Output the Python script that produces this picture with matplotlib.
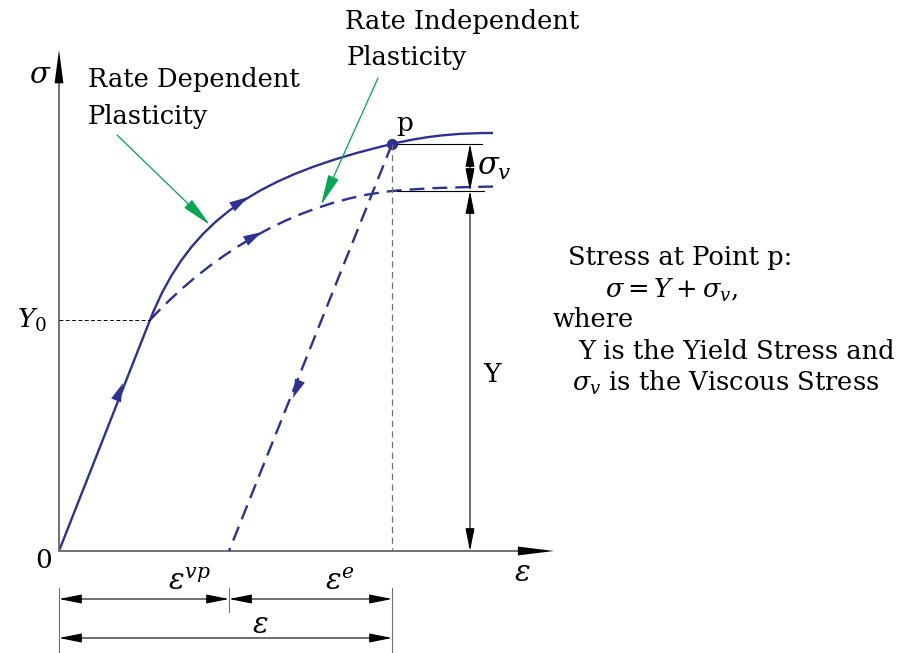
import matplotlib
matplotlib.use("Agg")
from matplotlib import pyplot as plt
from matplotlib.path import Path
from matplotlib.patches import PathPatch

plt.rcParams['font.family'] = 'DejaVu Serif'
plt.rcParams['mathtext.fontset'] = 'dejavuserif'

BLUE = '#2e3192'
GREEN = '#00a651'
GRAY = '#707070'

# rate dependent path: elastic line, then two cubic segments (through p)
eps_rd = [0.0, 0.91, 1.31, 2.01, 3.33, 3.73, 4.06, 4.34]
sig_rd = [0.0, 2.31, 3.33, 3.76, 4.07, 4.166, 4.18, 4.18]
codes_rd = [Path.MOVETO, Path.LINETO] + [Path.CURVE4] * 6

# rate independent curve from initial yield, two cubic segments
eps_ri = [0.91, 1.56, 2.41, 3.33, 3.71, 4.06, 4.41]
sig_ri = [2.31, 3.01, 3.50, 3.60, 3.635, 3.64, 3.645]
codes_ri = [Path.MOVETO] + [Path.CURVE4] * 6

# key values
eps0, Y0 = 0.91, 2.31          # initial yield
eps_p, sig_p = 3.33, 4.07      # point p
Y = 3.60                       # yield stress at p
eps_vp = 1.70                  # viscoplastic strain after unloading
eps_max, sig_max = 4.95, 5.01  # axis tips
x_dim = 4.11                   # stress dimension line
y_dim1, y_dim2 = -0.48, -0.87  # strain dimension lines

fig = plt.figure(figsize=(8.97, 6.53), dpi=100)
ax = fig.add_axes([0, 0, 1, 1])
ax.set_xlim(-0.59, 8.38)
ax.set_ylim(-1.02, 5.51)
ax.axis('off')

# axes
ax.plot([0, 0], [0, sig_max - 0.3], color=GRAY, lw=1.4)
ax.plot([0, eps_max - 0.3], [0, 0], color=GRAY, lw=1.4)
ax.annotate('', xy=(0, sig_max), xytext=(0, sig_max - 0.36),
            arrowprops=dict(arrowstyle='-|>,head_length=2.4,head_width=0.32',
                            color='black', lw=0, shrinkA=0, shrinkB=0))
ax.annotate('', xy=(eps_max, 0), xytext=(eps_max - 0.38, 0),
            arrowprops=dict(arrowstyle='-|>,head_length=2.6,head_width=0.32',
                            color='black', lw=0, shrinkA=0, shrinkB=0))

# curves
ax.add_patch(PathPatch(Path(list(zip(eps_rd, sig_rd)), codes_rd),
                       fill=False, edgecolor=BLUE, lw=1.7))
ax.add_patch(PathPatch(Path(list(zip(eps_ri, sig_ri)), codes_ri),
                       fill=False, edgecolor=BLUE, lw=1.7, linestyle=(0, (6.3, 3.4))))
ax.plot([eps_p, eps_vp], [sig_p, 0], color=BLUE, lw=1.7, dashes=(6.3, 3.4))
ax.plot([eps_p], [sig_p], 'o', color=BLUE, ms=7)

# helper lines
ax.plot([0, eps0], [Y0, Y0], color='black', lw=0.7, dashes=(4, 2.5))
ax.plot([eps_p, eps_p], [sig_p, 0], color=GRAY, lw=0.9, dashes=(5, 3.5))
ax.plot([eps_p + 0.05, x_dim + 0.12], [sig_p, sig_p], color='black', lw=0.8)
ax.plot([eps_p + 0.05, x_dim + 0.14], [Y, Y], color='black', lw=0.8)

# direction arrows on the paths
def head(tip, d, color=BLUE):
    ax.annotate('', xy=tip, xytext=(tip[0] - 0.06 * d[0], tip[1] - 0.06 * d[1]),
                arrowprops=dict(arrowstyle='-|>,head_length=1.35,head_width=0.38',
                                color=color, lw=0, shrinkA=0, shrinkB=0))

head((0.64, 1.68), (0.37, 0.93))
head((1.89, 3.54), (0.85, 0.53))
head((2.03, 3.19), (0.88, 0.48))
head((2.34, 1.53), (-0.37, -0.93))

# dimension arrows
dim = dict(arrowstyle='<|-|>,head_length=1.4,head_width=0.28',
           color='black', lw=0.8, shrinkA=0, shrinkB=0)
ax.annotate('', xy=(x_dim, sig_p), xytext=(x_dim, Y), arrowprops=dim)
ax.annotate('', xy=(x_dim, Y), xytext=(x_dim, 0), arrowprops=dim)
ax.annotate('', xy=(0, y_dim1), xytext=(eps_vp, y_dim1), arrowprops=dim)
ax.annotate('', xy=(eps_vp, y_dim1), xytext=(eps_p, y_dim1), arrowprops=dim)
ax.annotate('', xy=(0, y_dim2), xytext=(eps_p, y_dim2), arrowprops=dim)
for xv, ylow in [(0, -1.02), (eps_vp, -0.61), (eps_p, -1.02)]:
    ax.plot([xv, xv], [-0.37, ylow], color=GRAY, lw=0.8)

# callouts
green = dict(arrowstyle='-|>,head_length=1.9,head_width=0.35',
             color=GREEN, lw=0.9, shrinkA=0, shrinkB=0)
ax.annotate('', xy=(1.51, 3.26), xytext=(0.58, 4.16), arrowprops=green)
ax.annotate('', xy=(2.62, 3.46), xytext=(3.19, 4.73), arrowprops=green)

fs = 18.5
ax.text(0.29, 4.71, 'Rate Dependent', fontsize=fs, va='center')
ax.text(0.29, 4.34, 'Plasticity', fontsize=fs, va='center')
ax.text(2.86, 5.29, 'Rate Independent', fontsize=fs, va='center')
ax.text(2.88, 4.93, 'Plasticity', fontsize=fs, va='center')

# axis and dimension labels
ax.text(-0.19, 4.76, r'$\sigma$', fontsize=21, ha='center', va='center')
ax.text(-0.27, Y0, r'$Y_0$', fontsize=19, ha='center', va='center')
ax.text(-0.15, -0.09, '0', fontsize=19, ha='center', va='center')
ax.text(4.63, -0.22, r'$\varepsilon$', fontsize=21, ha='center', va='center')
ax.text(3.46, 4.27, 'p', fontsize=19, ha='center', va='center')
ax.text(4.18, 3.84, r'$\sigma_v$', fontsize=22, ha='left', va='center')
ax.text(4.24, 1.76, 'Y', fontsize=19, ha='left', va='center')
ax.text(1.31, -0.31, r'$\varepsilon^{vp}$', fontsize=21, ha='center', va='center')
ax.text(2.81, -0.31, r'$\varepsilon^{e}$', fontsize=21, ha='center', va='center')
ax.text(2.01, -0.74, r'$\varepsilon$', fontsize=21, ha='center', va='center')

# note on the right
ax.text(5.09, 2.93, 'Stress at Point p:', fontsize=fs, va='center')
ax.text(5.46, 2.61, r'$\sigma = Y + \sigma_v,$', fontsize=fs, va='center')
ax.text(4.94, 2.31, 'where', fontsize=fs, va='center')
ax.text(5.19, 1.99, 'Y is the Yield Stress and', fontsize=fs, va='center')
ax.text(5.13, 1.68, r'$\sigma_v$ is the Viscous Stress', fontsize=fs, va='center')

fig.savefig('out.png', dpi=100)
